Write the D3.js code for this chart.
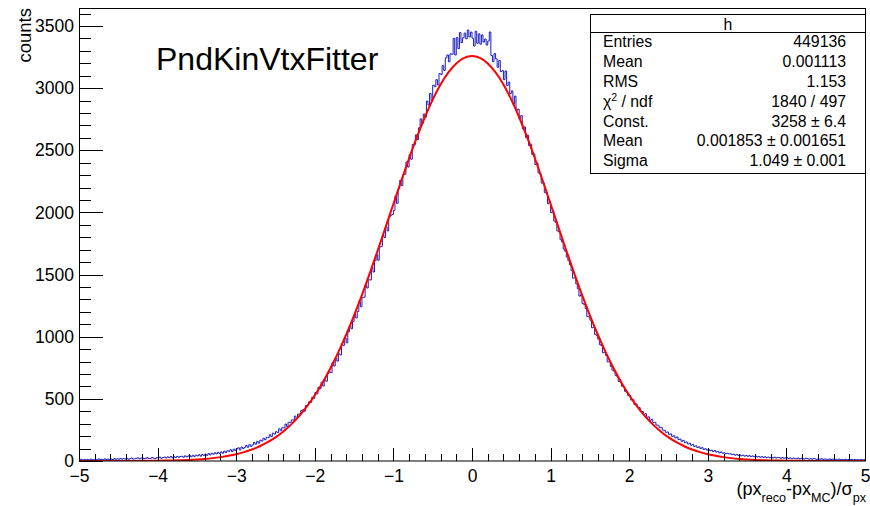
<!DOCTYPE html>
<html>
<head>
<meta charset="utf-8">
<script src="https://cdn.jsdelivr.net/npm/d3@7"></script>
<style>
body{margin:0;background:#fff}
svg{display:block}
text{font-family:"Liberation Sans",Arial,Helvetica,sans-serif}
</style>
</head>
<body>
<svg id="chart"></svg>
<script>
// histogram "h", 500 bins from -5 to 5
const xLow = -5, xHigh = 5;
const counts = [
8,14,6,12,10,13,7,15,11,9,14,10,17,11,13,10,17,12,16,9,15,12,19,13,18,14,20,15,19,16,21,14,19,24,16,17,22,25,18,23,25,19,22,27,20,21,28,23,19,27,
24,31,22,28,32,25,33,27,36,26,34,27,37,30,36,38,30,41,33,40,44,34,46,37,47,41,51,39,52,45,55,46,59,49,62,55,66,57,70,60,73,63,79,69,82,78,90,76,95,85,
98,106,89,112,101,109,124,111,131,118,129,149,135,158,144,167,160,183,171,190,188,211,196,224,216,236,229,259,244,268,266,297,279,312,309,331,329,361,342,377,378,405,412,401,446,447,476,472,512,503,
551,541,592,582,634,603,651,642,704,717,711,793,764,826,804,862,854,934,931,988,951,1039,1087,1064,1123,1179,1151,1203,1283,1241,1316,1318,1414,1392,1458,1457,1559,1521,1612,1661,1616,1722,1727,1816,1798,1883,1851,1964,1977,1984,
2016,2131,2073,2192,2258,2216,2304,2308,2406,2365,2466,2428,2547,2546,2624,2587,2681,2753,2718,2792,2766,2896,2864,2957,2898,3024,3012,3068,3026,3117,3111,3183,3143,3244,3267,3212,3276,3273,3401,3267,3407,3318,3447,3366,3406,3443,3397,3468,3412,3451,
3402,3339,3458,3361,3437,3354,3428,3371,3395,3347,3379,3452,3263,3214,3278,3236,3168,3222,3133,3141,3069,3138,3021,3049,2957,2978,2871,2936,2822,2831,2748,2779,2672,2688,2604,2621,2538,2549,2467,2471,2386,2397,2318,2311,2236,2238,2159,2161,2071,2089,
1998,2012,1931,1919,1851,1844,1781,1762,1705,1688,1641,1612,1579,1531,1472,1474,1425,1386,1327,1339,1268,1259,1227,1163,1159,1133,1072,1078,1019,1011,981,936,928,871,876,849,797,798,761,731,724,689,682,640,637,602,597,561,556,528,
526,491,494,455,459,432,429,401,399,373,381,352,355,327,336,309,311,289,287,268,271,249,247,231,233,214,218,198,203,186,193,173,177,158,166,149,153,137,143,127,133,117,122,108,114,101,107,93,99,88,
94,83,87,76,84,72,76,65,73,63,66,58,62,57,58,51,55,47,53,45,49,42,47,39,44,38,43,36,41,34,38,32,36,30,35,29,34,27,32,26,30,25,31,24,29,27,22,28,23,25,
26,20,25,19,24,21,18,24,17,22,19,16,22,18,15,19,14,20,16,13,17,14,18,13,16,14,11,17,12,15,12,14,10,15,11,13,9,14,10,12,10,13,8,12,9,11,7,12,9,10
];

// gaussian fit, sampled every 0.1 from -5 to 5
const fitStep = 0.1;
const fitY = [
0.04,0.06,0.09,0.14,0.22,0.33,0.49,0.73,1.08,1.57,2.27,3.2,4.6,6.5,9.0,12.5,17.0,23.1,31.1,41.4,
54.6,71.3,92.4,118.7,151,190,238,294.5,361,439,529,632,748,876,1018,1172,1337,1512,1694,1880,
2068,2255,2436,2608,2766,2908,3030,3127,3199,3243,3258,3243,3199,3127,3030,2908,2766,2608,2436,2255,
2068,1880,1694,1512,1337,1172,1018,876,748,632,529,439,361,294.5,238,190,151,118.7,92.4,71.3,
54.6,41.4,31.1,23.1,17.0,12.5,9.0,6.5,4.6,3.2,2.27,1.57,1.08,0.73,0.49,0.33,0.22,0.14,0.09,0.06,0.04
];

const yMax = 3641;
const yTicks = [0,500,1000,1500,2000,2500,3000,3500];
const yMinor = d3.range(0, 3700, 100);
const xTicks = [-5,-4,-3,-2,-1,0,1,2,3,4,5];
const xMinor = d3.range(-50, 51, 2).map(d => d / 10);

const statsLabels = ['Entries','Mean','RMS','χ2 / ndf','Const.','Mean','Sigma'];
const statsValues = ['449136','0.001113','1.153','1840 / 497','3258 ± 6.4','0.001853 ± 0.001651','1.049 ± 0.001'];

const width = 870, height = 506;
const frameL = 79, frameR = 865, frameT = 8.5, frameB = 461;

const svg = d3.select('#chart').attr('width', width).attr('height', height);

const x = d3.scaleLinear().domain([xLow, xHigh]).range([frameL, frameR]);
const y = d3.scaleLinear().domain([0, yMax]).range([frameB, frameT]);

svg.append('clipPath').attr('id','clip')
  .append('rect').attr('x', frameL).attr('y', frameT).attr('width', frameR-frameL).attr('height', frameB-frameT);

// histogram outline
const binW = (xHigh - xLow) / counts.length;
const pts = counts.map((c,i) => [xLow + i*binW, c]);
pts.push([xHigh, counts[counts.length-1]]);
svg.append('path')
  .attr('clip-path','url(#clip)')
  .attr('d', d3.line().x(d => x(d[0])).y(d => y(d[1])).curve(d3.curveStepAfter)(pts))
  .attr('fill','none')
  .attr('stroke','#1c1cc0')
  .attr('stroke-width',1);

// fit
svg.append('path')
  .attr('clip-path','url(#clip)')
  .attr('d', d3.line().x((d,i) => x(xLow + i*fitStep)).y(d => y(d)).curve(d3.curveMonotoneX)(fitY))
  .attr('fill','none')
  .attr('stroke','#ff0000')
  .attr('stroke-width',2);

// axes
const fontFam = '"Liberation Sans",Arial,Helvetica,sans-serif';

svg.append('g')
  .attr('transform','translate(0,'+frameB+')')
  .call(d3.axisBottom(x).tickValues(xMinor).tickSize(-7).tickSizeOuter(0).tickFormat(''))
  .call(g => g.select('.domain').remove());
svg.append('g')
  .attr('transform','translate(0,'+frameB+')')
  .call(d3.axisBottom(x).tickValues(xTicks).tickSize(-13.5).tickSizeOuter(0).tickPadding(9)
        .tickFormat(d => d < 0 ? '\u2212' + Math.abs(d) : d))
  .call(g => g.select('.domain').remove())
  .attr('font-family', fontFam).attr('font-size', 17.5);

svg.append('g')
  .attr('transform','translate('+frameL+',0)')
  .call(d3.axisLeft(y).tickValues(yMinor).tickSize(-12).tickSizeOuter(0).tickFormat(''))
  .call(g => g.select('.domain').remove());
svg.append('g')
  .attr('transform','translate('+frameL+',0)')
  .call(d3.axisLeft(y).tickValues(yTicks).tickSize(-23.5).tickSizeOuter(0).tickPadding(5)
        .tickFormat(d3.format('d')))
  .call(g => g.select('.domain').remove())
  .attr('font-family', fontFam).attr('font-size', 17.5);

svg.selectAll('.tick line').attr('stroke','#000').attr('shape-rendering','crispEdges');
svg.selectAll('.tick text').attr('fill','#000');

// frame
svg.append('rect')
  .attr('x', frameL+0.5).attr('y', frameT).attr('width', frameR-frameL).attr('height', frameB-frameT)
  .attr('fill','none').attr('stroke','#000').attr('stroke-width',1);

// axis titles
svg.append('text')
  .attr('transform','translate(31,8) rotate(-90)')
  .attr('text-anchor','end')
  .attr('font-size',18.5)
  .text('counts');

const xt = svg.append('text')
  .attr('x', 866).attr('y', 495)
  .attr('text-anchor','end')
  .attr('font-size',18);
xt.append('tspan').text('(px');
xt.append('tspan').attr('dy',6.5).attr('font-size',12.6).text('reco');
xt.append('tspan').attr('dy',-6.5).text('-px');
xt.append('tspan').attr('dy',6.5).attr('font-size',12.6).text('MC');
xt.append('tspan').attr('dy',-6.5).text(')/σ');
xt.append('tspan').attr('dy',6.5).attr('font-size',12.6).text('px');

// title
svg.append('text')
  .attr('x',156).attr('y',70)
  .attr('font-size',32)
  .text('PndKinVtxFitter');

// stats box
const bx0 = 590.5, bx1 = 865.5, by0 = 14.5, by1 = 173.5;
svg.append('rect')
  .attr('x',bx0).attr('y',by0).attr('width',bx1-bx0).attr('height',by1-by0)
  .attr('fill','#fff').attr('stroke','#000').attr('stroke-width',1);
svg.append('line')
  .attr('x1',bx0).attr('x2',bx1).attr('y1',32.5).attr('y2',32.5)
  .attr('stroke','#000');
svg.append('text')
  .attr('x',(bx0+bx1)/2).attr('y',29.5)
  .attr('text-anchor','middle').attr('font-size',15.8)
  .text('h');

statsLabels.forEach((lab,i) => {
  const ty = 47.3 + i*19.8;
  const t = svg.append('text').attr('x',603).attr('y',ty).attr('font-size',15.8);
  if (lab.startsWith('χ2')) {
    t.append('tspan').text('χ');
    t.append('tspan').attr('dy',-6).attr('font-size',10.5).text('2');
    t.append('tspan').attr('dy',6).text(' / ndf');
  } else {
    t.text(lab);
  }
  svg.append('text').attr('x',846).attr('y',ty).attr('text-anchor','end')
    .attr('font-size',15.8).text(statsValues[i]);
});
</script>
</body>
</html>
